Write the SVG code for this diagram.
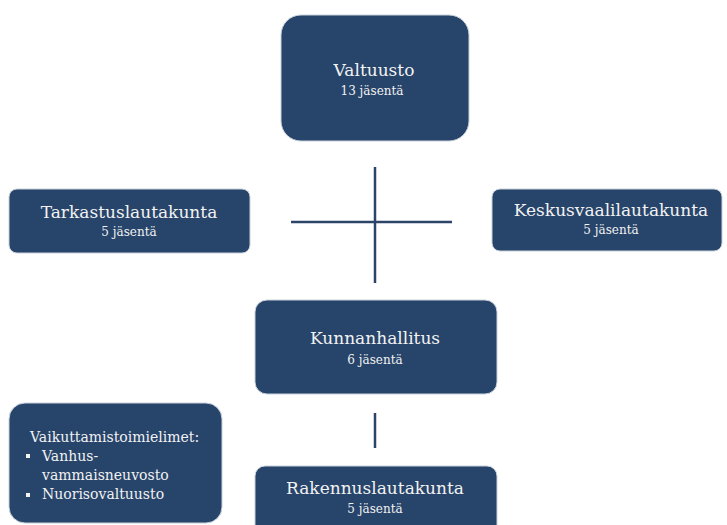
<svg xmlns="http://www.w3.org/2000/svg" width="727" height="525" viewBox="0 0 727 525">
<style>
.box{fill:#27446a;stroke:#c9d2dc;stroke-width:1}
.t{font-family:"DejaVu Serif","Liberation Serif",serif;fill:#f2f2f2;text-anchor:middle}
.big{font-size:17px}
.small{font-size:12px}
.l{font-family:"DejaVu Serif","Liberation Serif",serif;fill:#f2f2f2;font-size:14px}
.c{stroke:#2b4468;stroke-width:2.5;fill:none}
</style>
<rect width="727" height="525" fill="#ffffff"/>
<g id="connectors">
<line class="c" x1="375" y1="167" x2="375" y2="283"/>
<line class="c" x1="291" y1="222" x2="452" y2="222"/>
<line class="c" x1="375" y1="413" x2="375" y2="448"/>
</g>
<g id="valtuusto">
<rect class="box" x="281" y="15" width="188" height="126" rx="20"/>
<text class="t big" x="374" y="76">Valtuusto</text>
<text class="t small" x="372" y="95">13 jäsentä</text>
</g>
<g id="tarkastuslautakunta">
<rect class="box" x="9" y="189" width="241" height="64" rx="8"/>
<text class="t big" x="129" y="218">Tarkastuslautakunta</text>
<text class="t small" x="129" y="236">5 jäsentä</text>
</g>
<g id="keskusvaalilautakunta">
<rect class="box" x="492" y="189" width="230" height="62" rx="8"/>
<text class="t big" x="611" y="216">Keskusvaalilautakunta</text>
<text class="t small" x="611" y="234">5 jäsentä</text>
</g>
<g id="kunnanhallitus">
<rect class="box" x="255" y="300" width="242" height="94" rx="12"/>
<text class="t big" x="375" y="344">Kunnanhallitus</text>
<text class="t small" x="375" y="364">6 jäsentä</text>
</g>
<g id="rakennuslautakunta">
<rect class="box" x="255" y="466" width="242" height="70" rx="10"/>
<text class="t big" x="375" y="494">Rakennuslautakunta</text>
<text class="t small" x="375" y="513">5 jäsentä</text>
</g>
<g id="vaikuttamistoimielimet">
<rect class="box" x="9" y="403" width="213" height="120" rx="16"/>
<text class="l" x="30" y="442">Vaikuttamistoimielimet:</text>
<rect x="26" y="454" width="4" height="4" fill="#f2f2f2"/>
<text class="l" x="42" y="461">Vanhus-</text>
<text class="l" x="42" y="480">vammaisneuvosto</text>
<rect x="26" y="493" width="4" height="4" fill="#f2f2f2"/>
<text class="l" x="42" y="499">Nuorisovaltuusto</text>
</g>
</svg>
